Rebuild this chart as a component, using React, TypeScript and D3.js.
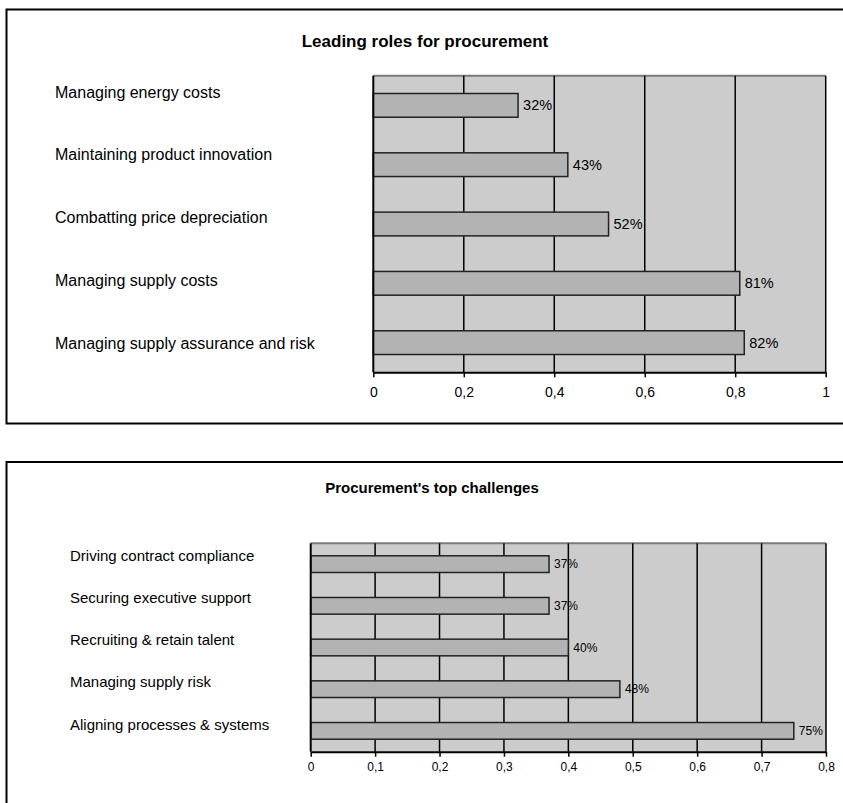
import React, { useEffect, useRef } from "react";
import * as d3 from "d3";

const WIDTH = 843;
const HEIGHT = 803;
const FONT = "'Liberation Sans', Arial, sans-serif";

// chart 1 data
const rolesTitle = "Leading roles for procurement";
const roleCategories = [
  "Managing energy costs",
  "Maintaining product innovation",
  "Combatting price depreciation",
  "Managing supply costs",
  "Managing supply assurance and risk",
];
const roleValues = [0.32, 0.43, 0.52, 0.81, 0.82];
const roleTicks = [0, 0.2, 0.4, 0.6, 0.8, 1];

// chart 2 data
const challengesTitle = "Procurement's top challenges";
const challengeCategories = [
  "Driving contract compliance",
  "Securing executive support",
  "Recruiting & retain talent",
  "Managing supply risk",
  "Aligning processes & systems",
];
const challengeValues = [0.37, 0.37, 0.4, 0.48, 0.75];
const challengeTicks = [0, 0.1, 0.2, 0.3, 0.4, 0.5, 0.6, 0.7, 0.8];

type Layout = {
  panel: [number, number, number, number]; // x, y, w, h
  title: [number, number, number]; // cx, cy, size
  plot: [number, number, number, number]; // x0, x1, y0, y1
  labelX: number;
  labelY: [number, number];
  labelSize: number;
  valueSize: number;
  tickSize: number;
  tickPad: number;
};

const topLayout: Layout = {
  panel: [6.5, 9.5, 845, 414],
  title: [425, 41, 17],
  plot: [373.3, 825.7, 75.7, 372.3],
  labelX: 55,
  labelY: [92, 343],
  labelSize: 16,
  valueSize: 14.5,
  tickSize: 14,
  tickPad: 10,
};

const bottomLayout: Layout = {
  panel: [6.5, 462, 845, 400],
  title: [432, 487, 15],
  plot: [310.7, 826, 543.3, 751.7],
  labelX: 70,
  labelY: [555, 724.3],
  labelSize: 15,
  valueSize: 12,
  tickSize: 12,
  tickPad: 6,
};

type PanelProps = {
  title: string;
  categories: string[];
  values: number[];
  ticks: number[];
  layout: Layout;
};

const BarPanel = ({ title, categories, values, ticks, layout }: PanelProps) => {
  const ref = useRef<SVGGElement>(null);

  useEffect(() => {
    const g = d3.select(ref.current);
    g.selectAll("*").remove();
    const L = layout;
    const data = categories.map((c, i) => ({ c, v: values[i] }));

    const x = d3
      .scaleLinear()
      .domain([0, ticks[ticks.length - 1]])
      .range([L.plot[0], L.plot[1]]);
    const y = d3
      .scaleBand<string>()
      .domain(categories)
      .range([L.plot[2], L.plot[3]])
      .paddingInner(0.6)
      .paddingOuter(0.3);
    const ly = d3.scalePoint<string>().domain(categories).range(L.labelY);
    const pct = d3.format(".0%");

    // panel frame
    g.append("rect")
      .attr("x", L.panel[0])
      .attr("y", L.panel[1])
      .attr("width", L.panel[2])
      .attr("height", L.panel[3])
      .attr("fill", "#fff")
      .attr("stroke", "#000")
      .attr("stroke-width", 2);

    g.append("text")
      .text(title)
      .attr("x", L.title[0])
      .attr("y", L.title[1])
      .attr("text-anchor", "middle")
      .attr("dominant-baseline", "central")
      .attr("font-family", FONT)
      .attr("font-weight", "bold")
      .attr("font-size", L.title[2])
      .attr("fill", "#000");

    // plot background
    g.append("rect")
      .attr("x", x(0))
      .attr("y", L.plot[2])
      .attr("width", L.plot[1] - L.plot[0])
      .attr("height", L.plot[3] - L.plot[2])
      .attr("fill", "#cccccc");

    g.append("line")
      .attr("x1", L.plot[0])
      .attr("x2", L.plot[1])
      .attr("y1", L.plot[2])
      .attr("y2", L.plot[2])
      .attr("stroke", "#7a7a7a")
      .attr("stroke-width", 2);

    // category labels
    g.selectAll(".cat")
      .data(categories)
      .join("text")
      .attr("class", "cat")
      .attr("x", L.labelX)
      .attr("y", (d) => ly(d) || 0)
      .attr("dominant-baseline", "central")
      .attr("font-family", FONT)
      .attr("font-size", L.labelSize)
      .attr("fill", "#000")
      .text((d) => d);

    // value labels (drawn under the grid lines, like the original)
    g.selectAll(".val")
      .data(data)
      .join("text")
      .attr("class", "val")
      .attr("x", (d) => x(d.v) + 5)
      .attr("y", (d) => (y(d.c) || 0) + y.bandwidth() / 2)
      .attr("dominant-baseline", "central")
      .attr("font-family", FONT)
      .attr("font-size", L.valueSize)
      .attr("fill", "#000")
      .text((d) => pct(d.v));

    // grid lines
    g.selectAll(".grid")
      .data(ticks.slice(1))
      .join("line")
      .attr("class", "grid")
      .attr("x1", (d) => x(d))
      .attr("x2", (d) => x(d))
      .attr("y1", L.plot[2])
      .attr("y2", L.plot[3])
      .attr("stroke", "#000")
      .attr("stroke-width", 1.5);

    // bars
    g.selectAll(".bar")
      .data(data)
      .join("rect")
      .attr("class", "bar")
      .attr("x", x(0))
      .attr("y", (d) => y(d.c) || 0)
      .attr("width", (d) => x(d.v) - x(0))
      .attr("height", y.bandwidth())
      .attr("fill", "#b3b3b3")
      .attr("stroke", "#222")
      .attr("stroke-width", 1.5);

    // left axis line
    g.append("line")
      .attr("x1", x(0))
      .attr("x2", x(0))
      .attr("y1", L.plot[2])
      .attr("y2", L.plot[3])
      .attr("stroke", "#000")
      .attr("stroke-width", 2);

    const axis = d3
      .axisBottom(x)
      .tickValues(ticks)
      .tickSizeInner(5)
      .tickSizeOuter(0)
      .tickPadding(L.tickPad)
      .tickFormat((d) => d3.format("~g")(d as number).replace(".", ","));

    const ag = g
      .append("g")
      .attr("transform", `translate(0,${L.plot[3]})`)
      .call(axis)
      .attr("font-family", FONT)
      .attr("font-size", L.tickSize);
    ag.select(".domain").attr("stroke", "#000").attr("stroke-width", 2);
    ag.selectAll(".tick line").attr("stroke", "#000").attr("stroke-width", 1.5);
    ag.selectAll(".tick text").attr("fill", "#000");
  }, []);

  return <g ref={ref} />;
};

export default function App() {
  return (
    <div style={{ position: "absolute", left: 0, top: 0 }}>
      <svg width={WIDTH} height={HEIGHT} style={{ display: "block", background: "#fff" }}>
        <BarPanel
          title={rolesTitle}
          categories={roleCategories}
          values={roleValues}
          ticks={roleTicks}
          layout={topLayout}
        />
        <BarPanel
          title={challengesTitle}
          categories={challengeCategories}
          values={challengeValues}
          ticks={challengeTicks}
          layout={bottomLayout}
        />
      </svg>
    </div>
  );
}
